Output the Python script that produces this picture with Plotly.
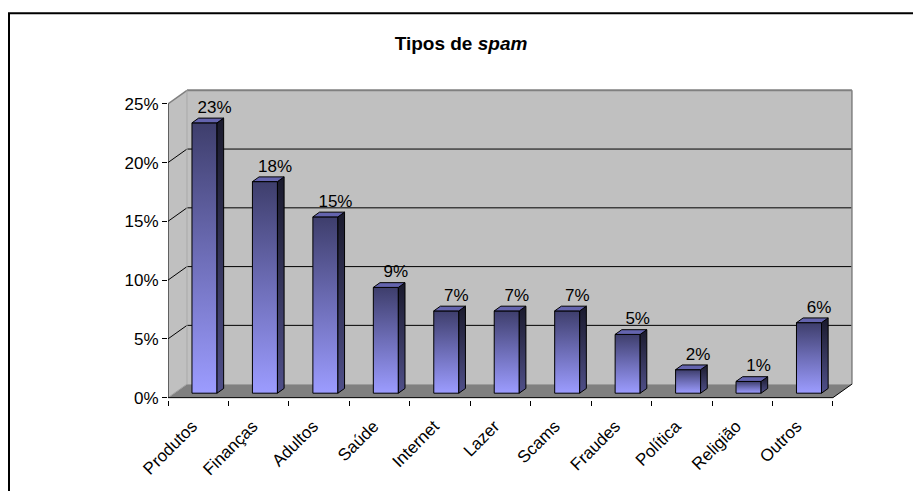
import plotly.graph_objects as go

# ---- data ----
categories = ["Produtos", "Finanças", "Adultos", "Saúde", "Internet", "Lazer",
              "Scams", "Fraudes", "Política", "Religião", "Outros"]
values = [23, 18, 15, 9, 7, 7, 7, 5, 2, 1, 6]
y_tick_values = [0, 5, 10, 15, 20, 25]
y_tick_labels = ["0%", "5%", "10%", "15%", "20%", "25%"]
title_text = "<b>Tipos de <i>spam</i></b>"

# ---- 3D-look style parameters (oblique projection) ----
DX = 0.314      # depth offset along x (category units)
DY = 1.15       # depth offset along y (value units)
D1, D2 = 0.33, 0.68   # front/back depth fraction of the bars
HW = 0.207      # half width of a bar
YMAX = 25
N = len(categories)
X0, X1 = -0.5, N - 0.5

FONT = "Liberation Sans, Arial, sans-serif"
FS = 17
WALL = "#C0C0C0"
FLOOR = "#808080"
EDGE = "#808080"

# pixel layout (page body has an 8px margin)
OFF = 8
W, H = 921 - OFF, 491 - OFF
L, R = 168 - OFF, 860 - OFF
BOT_PX = 400.4 - OFF
Y_RANGE = [-0.2, 26.6]
PX_PER_Y = 11.76
TOP_PX = BOT_PX - (Y_RANGE[1] - Y_RANGE[0]) * PX_PER_Y
X_RANGE = [X0, X0 + (R - L) / 60.45]

fig = go.Figure()


def poly(xs, ys, fill=None, width=1, gradient=None):
    xs = list(xs) + [xs[0]]
    ys = list(ys) + [ys[0]]
    kw = dict(x=xs, y=ys, mode="lines", hoverinfo="skip", showlegend=False,
              line=dict(color="black", width=width))
    if width == 0:
        kw["line"] = dict(color="rgba(0,0,0,0)", width=0)
    kw["fill"] = "toself"
    if fill is not None:
        kw["fillcolor"] = fill
    if gradient is not None:
        kw["fillgradient"] = gradient
    fig.add_trace(go.Scatter(**kw))


def seg(x0, y0, x1, y1, color="black", width=1):
    fig.add_trace(go.Scatter(x=[x0, x1], y=[y0, y1], mode="lines",
                             hoverinfo="skip", showlegend=False,
                             line=dict(color=color, width=width)))


# back wall
poly([X0 + DX, X1 + DX, X1 + DX, X0 + DX],
     [DY, DY, YMAX + DY, YMAX + DY], fill=WALL, width=0)
# left side wall
poly([X0, X0 + DX, X0 + DX, X0], [0, DY, YMAX + DY, YMAX], fill=WALL, width=0)
# floor
poly([X0, X1, X1 + DX, X0 + DX], [0, 0, DY, DY], fill=FLOOR, width=0)

# gridlines
for v in y_tick_values[1:-1]:
    seg(X0 + DX, v + DY, X1 + DX, v + DY)
    seg(X0, v, X0 + DX, v + DY)
# wall edges
seg(X0, YMAX, X0 + DX, YMAX + DY, EDGE, 1.5)
seg(X0 + DX, YMAX + DY, X1 + DX, YMAX + DY, EDGE, 2)
seg(X1 + DX, YMAX + DY, X1 + DX, DY, EDGE, 1.5)
seg(X0 + DX, DY, X0 + DX, YMAX + DY, "#A8A8A8", 1)
seg(X0, 0, X0 + DX, DY, "#A0A0A0", 1)
# floor edges
seg(X0, 0, X1, 0)
seg(X1, 0, X1 + DX, DY)
# value axis line
seg(X0, 0, X0, YMAX)

# bars
front_grad = dict(type="vertical", colorscale=[[0, "#9C9CFF"], [0.5, "#6E6EB8"], [1, "#3E3E6C"]])
side_grad = dict(type="vertical", colorscale=[[0, "#50508A"], [1, "#1A1A2C"]])
for i, v in enumerate(values):
    fx0 = i - HW + D1 * DX
    fx1 = i + HW + D1 * DX
    fy0 = D1 * DY
    bx_off = (D2 - D1) * DX
    by_off = (D2 - D1) * DY
    # front
    poly([fx0, fx1, fx1, fx0], [fy0, fy0, fy0 + v, fy0 + v],
         gradient=front_grad, width=1)
    # side
    poly([fx1, fx1 + bx_off, fx1 + bx_off, fx1],
         [fy0, fy0 + by_off, fy0 + v + by_off, fy0 + v],
         gradient=side_grad, width=1)
    # top
    poly([fx0, fx1, fx1 + bx_off, fx0 + bx_off],
         [fy0 + v, fy0 + v, fy0 + v + by_off, fy0 + v + by_off],
         fill="#6464AE", width=1)

# data labels
fig.add_trace(go.Scatter(
    x=[i + 0.27 for i in range(N)],
    y=[v + 1.6 for v in values],
    text=[f"{v}%" for v in values],
    mode="text", textposition="middle center",
    textfont=dict(family=FONT, size=FS, color="black"),
    hoverinfo="skip", showlegend=False, cliponaxis=False))

# category tick marks axis (boundaries)
fig.add_trace(go.Scatter(x=[X0], y=[0], xaxis="x2", mode="markers",
                         marker=dict(opacity=0), hoverinfo="skip", showlegend=False))

pw = R - L
ph = BOT_PX - TOP_PX
fig.add_shape(type="rect", xref="paper", yref="paper",
              x0=(9 - OFF - L) / pw, x1=(W + 20 - L) / pw,
              y0=(BOT_PX - (H + 20)) / ph, y1=(BOT_PX - (13.5 - OFF)) / ph,
              line=dict(color="black", width=2), layer="below")

fig.update_layout(
    width=W, height=H,
    margin=dict(l=L, r=W - R, t=TOP_PX, b=H - BOT_PX, pad=0),
    paper_bgcolor="white", plot_bgcolor="white",
    font=dict(family=FONT, size=FS, color="black"),
    title=dict(text=title_text, x=(461 - OFF) / W, xref="container", xanchor="center",
               y=1 - (43 - OFF) / H, yref="container", yanchor="middle",
               font=dict(family=FONT, size=19, color="black")),
    xaxis=dict(range=X_RANGE, tickmode="array", tickvals=list(range(N)),
               ticktext=categories, tickangle=-45, ticks="", showgrid=False,
               zeroline=False, showline=False,
               ticklabelstandoff=12, ticklabelshift=-6,
               tickfont=dict(family=FONT, size=FS, color="black")),
    xaxis2=dict(range=X_RANGE, overlaying="x", side="bottom", anchor="y",
                tickmode="array", tickvals=[X0 + k for k in range(N + 1)],
                showticklabels=False, ticks="outside", ticklen=5,
                tickcolor="black", tickwidth=1, showgrid=False,
                zeroline=False, showline=False),
    yaxis=dict(range=Y_RANGE, tickmode="array", tickvals=y_tick_values,
               ticktext=y_tick_labels, ticks="outside", ticklen=5,
               tickcolor="black", showgrid=False, zeroline=False,
               showline=False,
               tickfont=dict(family=FONT, size=FS, color="black")),
)

fig.write_html("out.html")
